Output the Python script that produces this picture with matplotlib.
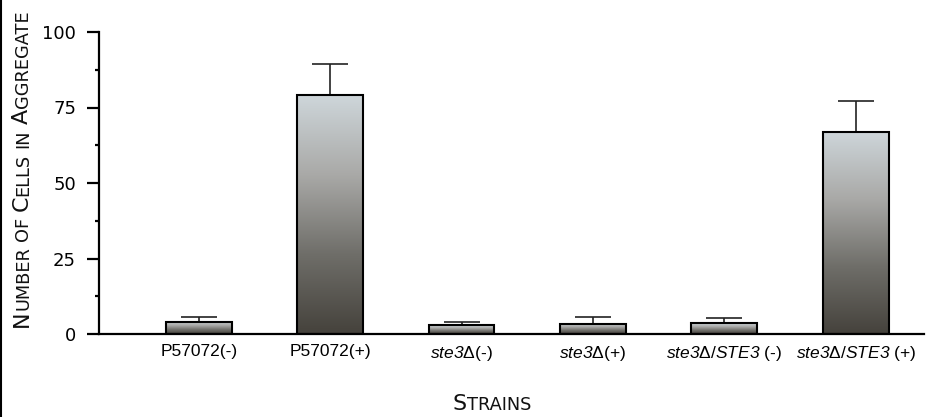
import numpy as np
import matplotlib
matplotlib.use("Agg")
import matplotlib.pyplot as plt
from matplotlib.colors import LinearSegmentedColormap
from matplotlib.patches import Rectangle
from matplotlib.lines import Line2D

plt.rcParams["mathtext.fontset"] = "custom"
plt.rcParams["mathtext.rm"] = "Liberation Sans"
plt.rcParams["mathtext.it"] = "Liberation Sans:italic"
plt.rcParams["mathtext.sf"] = "Liberation Sans:italic"
plt.rcParams["mathtext.bf"] = "Liberation Sans:bold"

categories = ["P57072(-)", "P57072(+)", r"$\mathsf{ste3}\mathrm{\Delta}$(-)", r"$\mathsf{ste3}\mathrm{\Delta}$(+)",
              r"$\mathsf{ste3}\mathrm{\Delta/}\mathsf{STE3}$ (-)", r"$\mathsf{ste3}\mathrm{\Delta/}\mathsf{STE3}$ (+)"]
values = [4.0, 79.0, 2.9, 3.4, 3.6, 67.0]
errors = [1.6, 10.5, 1.2, 2.1, 1.7, 10.2]
yticks = [0, 25, 50, 75, 100]

W, H = 935, 417
fig = plt.figure(figsize=(W / 100, H / 100), dpi=100)
ax = fig.add_axes([99 / W, 1 - 334 / H, (924 - 99) / W, (334 - 32) / H])

x = np.arange(len(values))
bw = 0.5

cmap = LinearSegmentedColormap.from_list("g", ["#45423c", "#6f6e69", "#a9a9a7", "#ced6da"])
grad = np.linspace(0, 1, 256).reshape(-1, 1)
for xi, v, e in zip(x, values, errors):
    rect = Rectangle((xi - bw / 2, 0), bw, v, facecolor="none", edgecolor="black", lw=1.5, zorder=3)
    ax.add_patch(rect)
    im = ax.imshow(grad, cmap=cmap, aspect="auto", origin="lower",
                   extent=(xi - bw / 2, xi + bw / 2, 0, v), zorder=2, interpolation="bilinear")
    im.set_clip_path(rect)
    ax.errorbar([xi], [v], yerr=[[0], [e]], fmt="none", ecolor="#222222", elinewidth=1.2,
                capsize=13, capthick=1.2, zorder=1)
ax.set_xlim(-0.76, 5.52)
ax.set_ylim(0, 100)

for s in ["top", "right"]:
    ax.spines[s].set_visible(False)
ax.spines["left"].set_linewidth(1.6)
ax.spines["bottom"].set_linewidth(1.6)
ax.set_yticks(yticks)
ax.set_yticks([12.5, 37.5, 62.5, 87.5], minor=True)
ax.tick_params(axis="y", which="major", length=8.5, width=1.6, direction="out", labelsize=13, pad=8)
ax.tick_params(axis="y", which="minor", length=3.2, width=1.6, direction="out")
for t in ax.get_yticklabels():
    t.set_fontfamily("DejaVu Sans")
ax.set_xticks(x)
ax.set_xticklabels(categories, fontfamily="Liberation Sans", fontsize=12.5)
ax.tick_params(axis="x", length=0, pad=7)

fig.add_artist(Line2D([1 / W, 1 / W], [0, 1], transform=fig.transFigure, color="black", lw=1.5))

def smallcaps_pieces(text, big, small):
    pieces = []
    for word_i, word in enumerate(text.split(" ")):
        if word_i > 0:
            pieces.append((" ", small))
        if word.lower() in ("of", "in"):
            pieces.append((word.upper(), small))
        else:
            pieces.append((word[0].upper(), big))
            if len(word) > 1:
                pieces.append((word[1:].upper(), small))
    return pieces

fig.canvas.draw()
renderer = fig.canvas.get_renderer()

def draw_smallcaps(text, x0, y0, rotation, big, small, family="DejaVu Sans"):
    pos = 0.0
    for s, size in smallcaps_pieces(text, big, small):
        if s == " ":
            pos += size * 0.32 * 100 / 72
            continue
        tmp = fig.text(0, 0, s, fontsize=size, family=family)
        w = tmp.get_window_extent(renderer).width
        tmp.remove()
        if rotation == 90:
            fig.text(x0 / W, 1 - (y0 - pos) / H, s, fontsize=size, family=family, rotation=90,
                     ha="left", va="baseline", rotation_mode="anchor", color="#111111")
        else:
            fig.text((x0 + pos) / W, 1 - y0 / H, s, fontsize=size, family=family,
                     ha="left", va="baseline", color="#111111")
        pos += w

draw_smallcaps("Number of Cells in Aggregate", 28, 327, 90, 16.0, 12.8)
draw_smallcaps("Strains", 453, 410, 0, 16.0, 12.8)

fig.savefig("out.png", dpi=100)
